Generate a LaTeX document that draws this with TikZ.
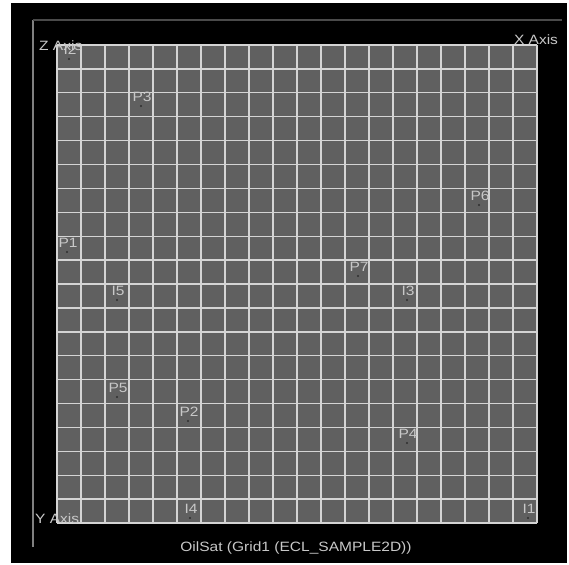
\documentclass[tikz,border=0pt]{standalone}
\usepackage{fontspec}
\setmainfont{Liberation Sans}[FakeStretch=1.15]
\definecolor{cellgray}{HTML}{606060}
\definecolor{linegray}{HTML}{D4D4D4}
\definecolor{labelgray}{HTML}{C8C8C8}
\definecolor{wellgray}{HTML}{2E2E2E}
\definecolor{axisv}{HTML}{808080}
\definecolor{axish}{HTML}{4A4A4A}
\tikzset{
  lbl/.style={text=labelgray, font=\fontsize{13.5}{14}\selectfont, inner sep=0pt},
  wellmark/.style={circle, fill=wellgray, inner sep=0pt, minimum size=2.2pt},
  gridline/.style={draw=linegray, line width=1.4pt},
}
\begin{document}
\begin{tikzpicture}[x=1pt,y=-1pt]
\useasboundingbox (0,0) rectangle (569,564);
\fill[white] (0,0) rectangle (569,564);
\fill[black] (11,3) rectangle (567,563);
\fill[cellgray] (57,45) rectangle (537,523);
\foreach \i in {0,...,20} {
  \draw[gridline] ({57+24*\i},45) -- ({57+24*\i},523);
  \draw[gridline] (57,{45+23.9*\i}) -- (537,{45+23.9*\i});
}
% axes
\coordinate (zt) at (33,20);
\coordinate (yb) at (33,547);
\coordinate (xr) at (562,20);
\draw[axisv, line width=1.5pt] (zt) -- (yb);
\draw[axish, line width=1.5pt] (zt) -- (xr);
\node[lbl, anchor=west] (zlab) at (39,46) {Z Axis};
\node[lbl] (xlab) at (536,40) {X Axis};
\node[lbl, anchor=west] (ylab) at (35,519) {Y Axis};
\node[lbl] (title) at (296,548) {OilSat (Grid1 (ECL\_SAMPLE2D))};
% wells
\foreach \n/\x/\y in {I2/70/50, P3/142/97, P6/480/196, P1/68/243, P7/359/267,
  I5/118/291, I3/408/291, P5/118/388, P2/189/412, P4/408/434, I4/191/509, I1/529/509} {
  \node[wellmark] (w\n) at ({\x-1},{\y+9}) {};
  \node[lbl] (l\n) at (\x,\y) {\n};
}
\end{tikzpicture}
\end{document}
